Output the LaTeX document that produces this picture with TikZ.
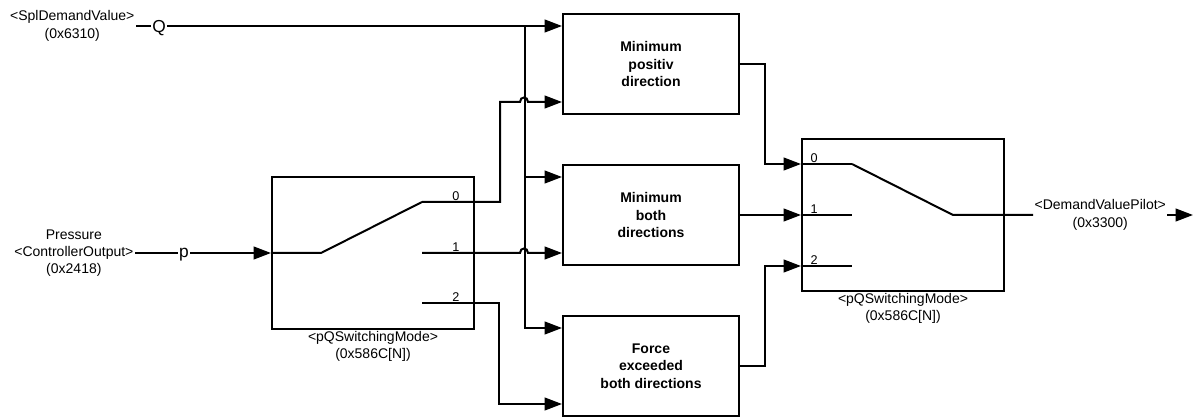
\documentclass[tikz,border=0pt]{standalone}
\usepackage{fontspec}
\setmainfont{Liberation Sans}
\usepackage{tikz}
\usetikzlibrary{arrows.meta,calc}

\begin{document}
\begin{tikzpicture}[x=0.75pt,y=-0.75pt,>={Triangle[length=13pt,width=9.5pt]},
  wire/.style={line width=1.5pt},
  block/.style={draw,line width=1.5pt,minimum width=132pt,minimum height=75pt,inner sep=0pt,align=center,font=\bfseries\fontsize{10.5}{13}\selectfont},
  switchbox/.style={draw,line width=1.5pt,minimum width=151.5pt,minimum height=113.25pt,inner sep=0pt},
  lbl/.style={align=center,inner sep=1pt,font=\fontsize{10.5}{13}\selectfont},
  num/.style={inner sep=1pt,font=\fontsize{9.5}{11}\selectfont},
  sig/.style={inner sep=1pt,text depth=0pt,font=\fontsize{13}{16}\selectfont}]
  \useasboundingbox (0,0) rectangle (1193,417);
  % Parameters
  \def\xBus{525}    % Q bus
  \def\yQ{26}       % Q row
  % Blocks
  \node[block] (minpos) at (651,64) {Minimum\\positiv\\direction};
  \node[block] (minboth) at (651,215) {Minimum\\both\\directions};
  \node[block] (force) at (651,366) {Force\\exceeded\\both directions};
  % Switches
  \node[switchbox] (swL) at (373,253) {};
  \node[switchbox] (swR) at (903,215) {};
  \node[lbl,below] (swLname) at (swL.south) {<pQSwitchingMode>\\(0x586C[N])};
  \node[lbl,below] (swRname) at (swR.south) {<pQSwitchingMode>\\(0x586C[N])};
  % Inputs and output
  \node[lbl,anchor=east] (spl) at (136,\yQ) {<SplDemandValue>\\(0x6310)};
  \node[sig] (Q) at (159,\yQ) {Q};
  \node[lbl,anchor=east] (pres) at (135,253) {Pressure\\<ControllerOutput>\\(0x2418)};
  \node[sig] (p) at (184,253) {p};
  \node[lbl,anchor=west] (dvp) at (1033,215) {<DemandValuePilot>\\(0x3300)};
  \coordinate (out) at (1193,215);
  % Ports
  \foreach \b in {minpos,minboth,force}
  {\coordinate (\b-a) at ($(\b.west)+(0,-38)$); \coordinate (\b-b) at ($(\b.west)+(0,38)$);}
  \coordinate (bus) at (\xBus,\yQ);
  \coordinate (swL-in) at (swL.west);
  \coordinate (swL-piv) at ($(swL.west)+(50,0)$);
  \coordinate (swL-o0) at ($(swL.west)+(151,-51)$);
  \coordinate (swL-o1) at ($(swL.west)+(151,0)$);
  \coordinate (swL-o2) at ($(swL.west)+(151,50)$);
  \coordinate (swR-i0) at ($(swR.west)+(0,-51)$);
  \coordinate (swR-i1) at (swR.west);
  \coordinate (swR-i2) at ($(swR.west)+(0,51)$);
  \coordinate (swR-piv) at ($(swR.west)+(152,0)$);
  % Q and p signals
  \draw[wire] (spl.east) -- (Q.west);
  \draw[wire,->] (Q.east) -- (minpos-a);
  \draw[wire,->] (bus) |- (minboth-a);
  \draw[wire,->] (bus) |- (force-a);
  \draw[wire] (pres.east) -- (p.west);
  \draw[wire,->] (p.east) -- (swL-in);
  % Left switch
  \draw[wire] (swL-in) -- (swL-piv) -- (swL-o0);
  \draw[wire,->] (swL-o0) -- ++(78,0) |- ($(minpos-b)+(-42,0)$) .. controls +(0,-6) and +(0,-6) .. ($(minpos-b)+(-34,0)$) -- (minpos-b);
  \draw[wire,->] (swL-o1) -- ($(minboth-b)+(-42,0)$) .. controls +(0,-6) and +(0,-6) .. ($(minboth-b)+(-34,0)$) -- (minboth-b);
  \draw[wire,->] (swL-o2) -- ++(77,0) |- (force-b);
  \foreach \o/\n in {o0/0,o1/1,o2/2}
  {\node[num,anchor=south] (swL-n\n) at ($(swL-\o)+(34,0)$) {\n};}
  % Blocks to right switch
  \draw[wire,->] (minpos.east) -- ++(25,0) |- (swR-i0);
  \draw[wire,->] (minboth.east) -- (swR-i1);
  \draw[wire,->] (force.east) -- ++(25,0) |- (swR-i2);
  % Right switch
  \foreach \i in {0,1,2}
  {\draw[wire] (swR-i\i) -- ++(51,0); \node[num,anchor=south west] (swR-n\i) at ($(swR-i\i)+(8,0)$) {\i};}
  \draw[wire] ($(swR-i0)+(51,0)$) -- (swR-piv) -- (dvp.west);
  \draw[wire,->] (dvp.east) -- (out);
\end{tikzpicture}
\end{document}
